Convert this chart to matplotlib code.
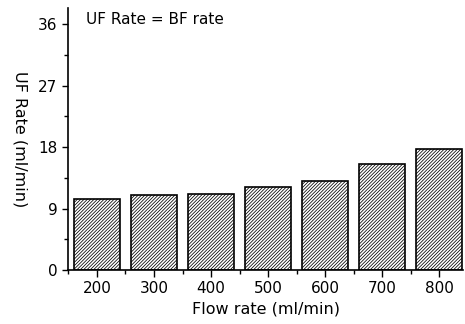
import numpy as np
import matplotlib
matplotlib.use('Agg')
import matplotlib.pyplot as plt
from matplotlib.ticker import MultipleLocator

# 超滤速率随血流速率变化
flow_rates = ['200', '300', '400', '500', '600', '700', '800']
uf_rates = [10.4, 11.0, 11.2, 12.1, 13.1, 15.5, 17.8]

plt.rcParams['font.family'] = ['DejaVu Sans']
plt.rcParams['hatch.linewidth'] = 0.55
plt.rcParams['hatch.color'] = '#222222'

fig = plt.figure(figsize=(4.65, 3.24), dpi=100)
ax = fig.add_axes([0.146, 0.167, 0.850, 0.808])

x = np.arange(len(flow_rates))
ax.bar(x, uf_rates, width=0.8, color='white', edgecolor='black',
       linewidth=1.2, hatch='/' * 10)

ax.set_xlim(-0.51, 6.42)
ax.set_ylim(0, 38.4)
ax.set_xticks(x)
ax.set_xticklabels(flow_rates, fontsize=11)
ax.xaxis.set_minor_locator(MultipleLocator(1, offset=0.5))
ax.yaxis.set_major_locator(MultipleLocator(9))
ax.yaxis.set_minor_locator(MultipleLocator(4.5))
ax.tick_params(axis='y', labelsize=11, length=4, width=1)
ax.tick_params(axis='x', length=5, width=1, pad=3)
ax.tick_params(which='minor', length=3, width=1)

for s in ['top', 'right']:
    ax.spines[s].set_visible(False)
for s in ['left', 'bottom']:
    ax.spines[s].set_linewidth(1.2)

ax.set_xlabel('Flow rate (ml/min)', fontsize=11.5, labelpad=4)
ax.set_ylabel('UF Rate (ml/min)', fontsize=11.5, rotation=270,
              ha='center', va='center')
ax.yaxis.set_label_coords(-0.122, 0.5)
ax.text(0.045, 0.985, 'UF Rate = BF rate', transform=ax.transAxes,
        fontsize=11, va='top', ha='left')

plt.savefig('out.png', dpi=100)
